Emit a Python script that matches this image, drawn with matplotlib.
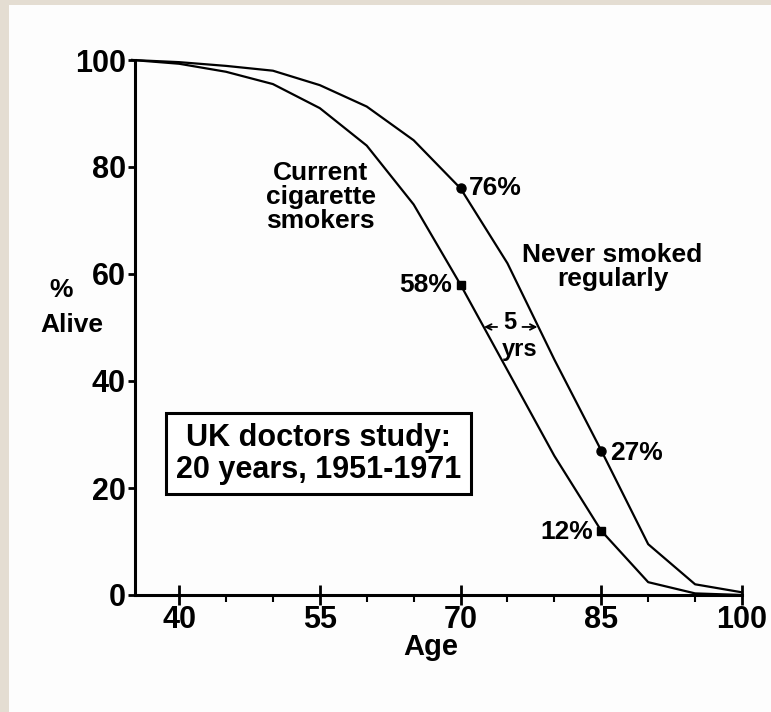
import matplotlib
matplotlib.use("Agg")
import matplotlib.pyplot as plt
from matplotlib.patches import Rectangle

ages = [35, 40, 45, 50, 55, 60, 65, 70, 75, 80, 85, 90, 95, 100]
never_smoked = [100, 99.6, 98.9, 98, 95.3, 91.3, 85, 76, 62, 44, 27, 9.5, 2, 0.5]
smokers = [100, 99.3, 97.8, 95.5, 91, 84, 73, 58, 42, 26, 12, 2.4, 0.3, 0]
marker_ages = [70, 85]
never_marks = [76, 27]
smoker_marks = [58, 12]
xticks = [40, 55, 70, 85, 100]
xminor = [45, 50, 60, 65, 75, 80, 90, 95]
yticks = [0, 20, 40, 60, 80, 100]

plt.rcParams['font.family'] = ['Liberation Sans', 'DejaVu Sans']

fig = plt.figure(figsize=(7.71, 7.12), dpi=100)
fig.patch.set_facecolor('#e4ddd2')
# white panel
fig.patches.append(Rectangle((9/771, 0), 1, 1 - 5/712, transform=fig.transFigure,
                             facecolor='#fdfdfd', edgecolor='none', zorder=-10))

ax = fig.add_axes([135/771, (712-595)/712, (742-135)/771, (595-60)/712])
ax.set_zorder(5)
ax.set_facecolor('none')
ax.set_xlim(35.3, 100)
ax.set_ylim(0, 100)

ax.plot(ages, never_smoked, color='black', lw=1.6, clip_on=False)
ax.plot(ages, smokers, color='black', lw=1.6, clip_on=False)
ax.plot(marker_ages, never_marks, 'o', color='black', ms=6.5, clip_on=False)
ax.plot(marker_ages, smoker_marks, 's', color='black', ms=6, clip_on=False)

for s in ['top', 'right']:
    ax.spines[s].set_visible(False)
for s in ['left', 'bottom']:
    ax.spines[s].set_linewidth(2.2)

ax.set_xticks(xticks)
ax.set_xticks(xminor, minor=True)
ax.set_yticks(yticks)
ax.tick_params(axis='x', which='major', direction='inout', length=14, width=2, pad=0,
               labelsize=22)
ax.tick_params(axis='x', which='minor', direction='out', length=5, width=1.5)
ax.tick_params(axis='y', which='major', direction='out', length=5, width=2, pad=1.5,
               labelsize=22)
for lab in ax.get_xticklabels() + ax.get_yticklabels():
    lab.set_fontweight('bold')

ax.set_xlabel('Age', fontsize=21, fontweight='bold')
ax.xaxis.set_label_coords((431-135)/607, (595-633)/535)
fig.text(61/771, 1 - 290/712, '%', ha='center', va='center', fontsize=19,
         fontweight='bold')
fig.text(72/771, 1 - 325/712, 'Alive', ha='center', va='center', fontsize=19,
         fontweight='bold')

tkw = dict(fontsize=19, fontweight='bold', color='black')
ax.text(55.1, 74.4, 'Current\ncigarette\nsmokers', ha='center', va='center',
        linespacing=1.0, **tkw)
ax.text(86.2, 61.4, 'Never smoked\nregularly', ha='center', va='center',
        linespacing=1.0, **tkw)
ax.text(69.1, 58, '58%', ha='right', va='center', **tkw)
ax.text(70.9, 76, '76%', ha='left', va='center', **tkw)
ax.text(85.9, 26.6, '27%', ha='left', va='center', **tkw)
ax.text(84.1, 11.8, '12%', ha='right', va='center', **tkw)
ax.text(75.2, 51.0, '5', ha='center', va='center', fontsize=17, fontweight='bold')
ax.text(76.3, 45.8, 'yrs', ha='center', va='center', fontsize=17, fontweight='bold')
ax.annotate('', xy=(72.5, 50.1), xytext=(73.9, 50.1),
            arrowprops=dict(arrowstyle='->', lw=1.3, color='black', shrinkA=0, shrinkB=0))
ax.annotate('', xy=(78.2, 50.1), xytext=(76.6, 50.1),
            arrowprops=dict(arrowstyle='->', lw=1.3, color='black', shrinkA=0, shrinkB=0))

ax.text(54.9, 26.4, 'UK doctors study:\n20 years, 1951-1971', ha='center', va='center',
        fontsize=22, fontweight='bold', linespacing=1.08,
        bbox=dict(boxstyle='square,pad=0.32', facecolor='white', edgecolor='black', lw=2.2))

fig.savefig('out.png', dpi=100, facecolor=fig.get_facecolor())
